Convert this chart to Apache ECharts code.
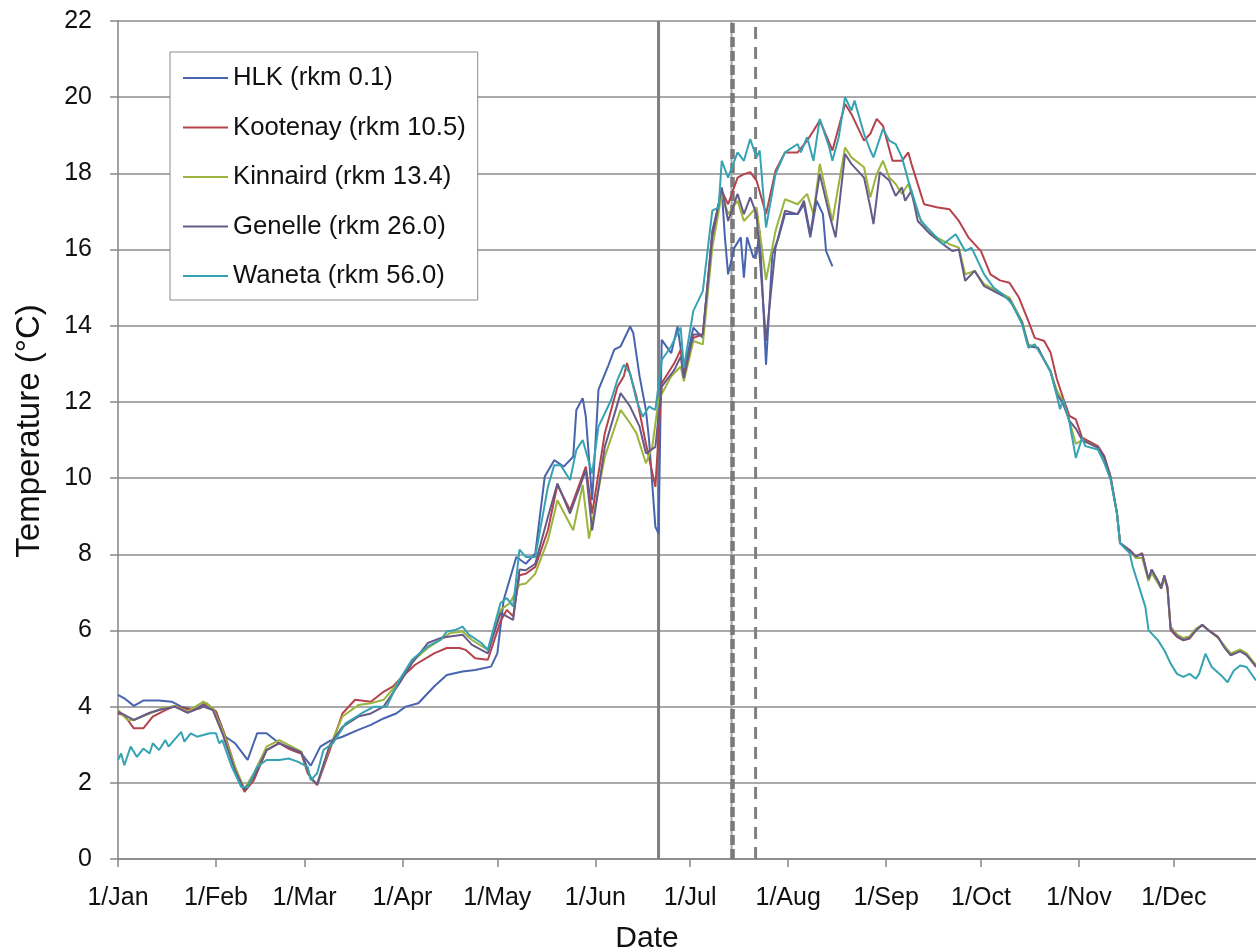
<!DOCTYPE html>
<html>
<head>
<meta charset="utf-8">
<script src="https://cdn.jsdelivr.net/npm/echarts@6/dist/echarts.min.js"></script>
<style>
  html, body { margin: 0; padding: 0; background: #ffffff; }
  #chart { width: 1256px; height: 952px; }
</style>
</head>
<body>
<div id="chart"></div>
<script>
// Day of year (0 = 1 Jan) at which each month starts, and its tick label
const monthStartDays = [0, 31, 59, 90, 120, 151, 181, 212, 243, 273, 304, 334];
const monthLabels = ['1/Jan', '1/Feb', '1/Mar', '1/Apr', '1/May', '1/Jun',
                     '1/Jul', '1/Aug', '1/Sep', '1/Oct', '1/Nov', '1/Dec'];

const seriesNames = ['HLK (rkm 0.1)', 'Kootenay (rkm 10.5)', 'Kinnaird (rkm 13.4)',
                     'Genelle (rkm 26.0)', 'Waneta (rkm 56.0)'];

// Daily water temperature (°C), [day of year, value]
const hlk = [[0,4.31],[2,4.22],[5,4.02],[8,4.16],[13,4.16],[17,4.13],[20,4.0],[24,3.91],[27,4.07],[31,3.87],
  [34,3.21],[37,3.04],[41,2.6],[44,3.3],[47,3.3],[51,3.04],[55,2.86],[58,2.77],[61,2.45],[64,2.95],[67,3.1],
  [71,3.21],[76,3.39],[80,3.52],[84,3.69],[88,3.82],[91,4.0],[95,4.09],[100,4.53],[104,4.83],[109,4.92],
  [113,4.96],[118,5.05],[120,5.4],[122,6.8],[126,7.93],[129,7.75],[132,8.02],[135,10.04],[138,10.47],
  [141,10.3],[144,10.56],[145,11.79],[147,12.1],[148,11.61],[150,9.42],[152,12.32],[155,12.93],[157,13.37],
  [159,13.46],[162,13.98],[163,13.81],[165,12.67],[167,11.79],[168,11.0],[170,8.72],[171,8.54],[172,13.63],
  [175,13.28],[177,13.98],[178,13.4],[179,12.8],[182,13.95],[185,13.68],[188,16.49],[191,17.54],[192,16.32],
  [193,15.35],[195,16.05],[197,16.32],[198,15.26],[199,16.32],[201,15.79],[202,15.88],[203,16.49],[205,12.98],
  [207,15.88],[209,16.32],[211,16.93],[215,16.93],[217,17.19],[219,16.32],[221,17.28],[223,16.93],[224,15.96],
  [226,15.56]];

const kootenay = [[0,3.82],[2,3.78],[5,3.43],[8,3.43],[11,3.74],[15,3.91],[18,4.02],[22,3.93],[26,3.96],[28,4.09],
  [31,3.87],[34,3.21],[37,2.42],[40,1.76],[43,2.07],[47,2.86],[51,3.04],[54,2.9],[58,2.77],[60,2.25],[63,1.94],
  [67,2.86],[71,3.82],[75,4.18],[80,4.13],[84,4.39],[87,4.53],[90,4.79],[94,5.1],[100,5.4],[104,5.54],[108,5.54],
  [110,5.49],[113,5.27],[117,5.23],[121,6.24],[123,6.54],[125,6.37],[127,7.45],[129,7.49],[132,7.67],[136,8.63],
  [139,9.82],[143,9.16],[148,10.3],[150,9.07],[154,11.18],[158,12.4],[160,12.67],[161,13.02],[164,12.14],
  [167,10.91],[170,9.77],[172,12.49],[176,13.02],[178,13.37],[179,12.72],[182,13.68],[185,13.77],[188,16.4],
  [191,17.54],[193,17.19],[196,17.89],[198,17.98],[200,18.03],[202,17.81],[205,16.93],[208,18.07],[211,18.55],
  [215,18.55],[218,18.86],[220,19.12],[222,19.39],[226,18.6],[230,19.82],[232,19.56],[236,18.86],[238,19.04],
  [240,19.43],[242,19.25],[245,18.33],[248,18.33],[250,18.55],[251,18.25],[255,17.19],[259,17.11],[263,17.06],
  [266,16.75],[269,16.32],[273,15.96],[276,15.35],[279,15.19],[282,15.13],[285,14.74],[288,14.12],[290,13.68],
  [293,13.6],[295,13.3],[297,12.6],[299,12.1],[301,11.63],[303,11.54],[305,11.06],[310,10.84],[312,10.58],
  [314,10.05],[316,9.08],[317,8.29],[320,8.12],[322,7.94],[324,8.03],[326,7.33],[327,7.59],[330,7.15],[331,7.41],
  [332,7.15],[333,6.01],[335,5.83],[337,5.74],[339,5.79],[341,6.01],[343,6.14],[345,6.01],[348,5.83],[350,5.57],
  [352,5.35],[355,5.48],[357,5.39],[360,5.04]];

const kinnaird = [[0,3.91],[3,3.65],[5,3.65],[10,3.82],[14,3.96],[18,4.02],[22,3.87],[27,4.13],[30,3.96],[33,3.39],
  [37,2.42],[40,1.85],[43,2.25],[47,2.95],[51,3.12],[55,2.95],[58,2.82],[61,2.1],[63,1.98],[67,2.95],[71,3.74],
  [76,4.04],[80,4.09],[84,4.18],[89,4.66],[93,5.18],[98,5.54],[102,5.75],[105,5.93],[109,5.97],[112,5.75],
  [117,5.49],[121,6.54],[124,6.72],[127,7.2],[129,7.23],[132,7.49],[136,8.37],[139,9.42],[144,8.63],[147,9.82],
  [149,8.41],[154,10.56],[159,11.79],[162,11.44],[164,11.18],[167,10.39],[169,10.82],[171,12.05],[175,12.67],
  [178,12.93],[179,12.54],[182,13.6],[185,13.51],[188,16.05],[191,17.46],[193,16.93],[196,17.28],[198,16.75],
  [200,16.93],[202,17.11],[205,15.2],[208,16.49],[211,17.32],[215,17.19],[218,17.46],[220,16.93],[222,18.25],
  [226,16.75],[230,18.68],[232,18.42],[236,18.16],[238,17.37],[240,17.98],[242,18.33],[244,17.89],[246,17.72],
  [248,17.46],[250,17.72],[253,16.93],[256,16.49],[259,16.32],[263,16.14],[266,16.05],[268,15.35],[271,15.44],
  [274,15.09],[278,14.91],[282,14.74],[286,14.12],[288,13.51],[291,13.42],[293,13.1],[295,12.8],[297,12.3],
  [299,12.0],[301,11.5],[303,10.9],[305,11.0],[310,10.8],[312,10.5],[314,10.0],[316,9.08],[317,8.29],[320,8.1],
  [322,7.9],[324,7.9],[326,7.3],[327,7.5],[330,7.1],[331,7.35],[332,7.1],[333,6.1],[335,5.9],[337,5.8],[339,5.85],
  [341,6.05],[343,6.15],[345,6.0],[348,5.8],[350,5.6],[352,5.4],[355,5.5],[357,5.4],[360,5.1]];

const genelle = [[0,3.87],[3,3.74],[5,3.65],[10,3.84],[14,3.93],[18,4.0],[22,3.84],[27,4.0],[30,3.91],[33,3.3],
  [37,2.33],[40,1.81],[43,2.16],[47,2.86],[51,3.04],[55,2.9],[58,2.8],[61,2.11],[63,1.96],[67,3.0],[71,3.47],
  [76,3.74],[80,3.82],[84,4.0],[89,4.61],[93,5.14],[98,5.67],[102,5.8],[105,5.84],[109,5.89],[112,5.62],[117,5.4],
  [121,6.46],[125,6.28],[127,7.6],[129,7.58],[132,7.75],[136,8.98],[139,9.86],[143,9.07],[148,10.21],[150,8.63],
  [154,10.82],[159,12.23],[162,11.88],[165,11.35],[167,10.65],[170,10.82],[172,12.4],[176,12.84],[178,13.19],
  [179,12.63],[182,13.77],[185,13.77],[188,16.32],[191,17.63],[193,16.75],[196,17.46],[198,16.93],[200,17.37],
  [202,16.93],[205,13.6],[208,16.05],[211,17.02],[215,16.93],[217,17.28],[219,16.4],[222,17.98],[225,16.93],
  [227,16.32],[230,18.51],[232,18.25],[236,17.89],[238,17.11],[239,16.67],[241,18.03],[244,17.81],[246,17.41],
  [248,17.63],[249,17.28],[251,17.54],[253,16.75],[257,16.4],[261,16.14],[264,15.96],[266,16.0],[268,15.18],
  [271,15.44],[274,15.04],[278,14.87],[282,14.69],[286,14.08],[288,13.46],[291,13.42],[293,13.1],[295,12.8],
  [297,12.2],[299,11.95],[301,11.5],[303,11.3],[305,11.0],[310,10.8],[312,10.55],[314,10.0],[316,9.1],[317,8.3],
  [320,8.1],[322,7.95],[324,8.0],[326,7.35],[327,7.6],[329,7.3],[330,7.1],[331,7.45],[332,7.1],[333,6.05],
  [335,5.85],[337,5.75],[339,5.8],[341,6.0],[343,6.15],[345,6.0],[348,5.82],[350,5.55],[352,5.35],[355,5.45],
  [357,5.35],[360,5.05]];

const waneta = [[0,2.6],[1,2.77],[2,2.46],[4,2.95],[6,2.68],[8,2.9],[10,2.77],[11,3.04],[13,2.86],[15,3.12],
  [16,2.95],[20,3.34],[21,3.08],[23,3.3],[25,3.21],[29,3.3],[31,3.3],[32,3.04],[33,3.12],[36,2.42],[39,1.89],
  [41,1.89],[44,2.42],[47,2.6],[51,2.6],[54,2.64],[57,2.55],[60,2.42],[61,2.07],[63,2.25],[65,2.86],[68,3.04],
  [72,3.56],[77,3.82],[81,4.0],[85,4.0],[89,4.7],[93,5.23],[98,5.58],[102,5.75],[104,5.97],[107,6.02],[109,6.1],
  [111,5.89],[115,5.67],[117,5.49],[121,6.72],[123,6.85],[125,6.63],[127,8.12],[129,7.93],[132,7.93],[136,9.77],
  [138,10.34],[140,10.34],[143,9.95],[145,10.74],[147,11.0],[150,10.12],[152,11.35],[156,12.05],[158,12.58],
  [160,12.97],[162,12.75],[164,12.05],[166,11.61],[168,11.88],[169,11.83],[170,11.79],[172,13.1],[175,13.46],
  [177,13.81],[178,13.95],[179,12.89],[182,14.39],[185,14.91],[188,17.02],[190,17.11],[191,18.33],[193,17.89],
  [196,18.55],[198,18.33],[200,18.9],[202,18.42],[203,18.6],[205,16.58],[208,17.98],[211,18.55],[215,18.77],
  [216,18.55],[218,18.95],[220,18.33],[222,19.43],[225,18.68],[226,18.33],[228,18.95],[230,20.0],[232,19.65],
  [233,19.91],[236,19.04],[238,18.6],[239,18.42],[242,19.17],[244,18.86],[246,18.77],[248,18.42],[250,17.81],
  [254,16.75],[257,16.49],[261,16.14],[265,16.4],[268,15.96],[270,16.05],[274,15.35],[277,15.0],[280,14.82],
  [283,14.56],[286,14.04],[288,13.42],[290,13.51],[293,13.1],[295,12.8],[297,12.16],[298,11.81],[299,12.07],
  [301,11.46],[303,10.53],[305,11.06],[306,10.84],[310,10.75],[312,10.4],[314,9.96],[316,9.08],[317,8.29],
  [320,8.03],[321,7.68],[323,7.15],[325,6.62],[326,6.01],[329,5.74],[331,5.48],[333,5.13],[335,4.86],[337,4.78],
  [339,4.86],[341,4.73],[342,4.86],[344,5.39],[346,5.04],[349,4.82],[351,4.64],[353,4.95],[355,5.08],[357,5.04],
  [360,4.69]];

// Event dates drawn as vertical reference lines (day of year)
const solidMarkerDays = [171];
const heavyDashMarkerDays = [194.4];
const dashMarkerDays = [201.7];

const seriesData = [hlk, kootenay, kinnaird, genelle, waneta];
const seriesColors = ['#4864ae', '#b5434b', '#9ab43c', '#675a88', '#36a3b3'];

const FONT = "'Liberation Sans', Arial, sans-serif";
const AXIS_GREY = '#868686';

function verticalLine(day, style) {
  return {
    type: 'line', silent: true, symbol: 'none', z: 1,
    data: [[day, 0], [day, 22]],
    lineStyle: style
  };
}

const lineSeries = seriesNames.map((name, i) => ({
  name: name,
  type: 'line',
  data: seriesData[i],
  symbol: 'none',
  z: 3,
  color: seriesColors[i],
  lineStyle: { width: 2, color: seriesColors[i] }
}));

const markerSeries = [
  ...solidMarkerDays.map(d => verticalLine(d, { color: '#7f7f7f', width: 3 })),
  ...heavyDashMarkerDays.map(d => verticalLine(d - 0.3, { color: '#a6a6a6', width: 2 })),
  ...heavyDashMarkerDays.map(d => verticalLine(d, { color: '#7a7a7a', width: 4.5, type: [10, 4] })),
  ...dashMarkerDays.map(d => verticalLine(d, { color: '#7f7f7f', width: 3, type: [12, 8] }))
];

const chart = echarts.init(document.getElementById('chart'), null, { renderer: 'canvas' });
chart.setOption({
  animation: false,
  backgroundColor: '#ffffff',
  textStyle: { fontFamily: FONT },
  grid: { left: 118, right: 0, top: 21, bottom: 93, containLabel: false, outerBoundsMode: 'none' },
  legend: {
    orient: 'vertical',
    left: 170, top: 52,
    data: seriesNames,
    icon: 'path://M0,0H45V2H0Z',
    backgroundColor: '#ffffff',
    borderColor: '#8a8a8a', borderWidth: 1,
    padding: [13, 12, 11, 13],
    itemWidth: 45, itemHeight: 2, itemGap: 23.5,
    textStyle: { fontFamily: FONT, fontSize: 25.7, color: '#111111', lineHeight: 25, padding: [0, 0, 0, 0] }
  },
  xAxis: {
    type: 'value', min: 0, max: 360,
    name: 'Date', nameLocation: 'middle', nameGap: 65,
    nameTextStyle: { fontFamily: FONT, fontSize: 30, color: '#111111', padding: [0, 80, 0, 0] },
    axisLine: { show: true, lineStyle: { color: AXIS_GREY, width: 1.5 } },
    axisTick: { show: true, customValues: monthStartDays, length: 8, lineStyle: { color: AXIS_GREY, width: 1.5 } },
    axisLabel: {
      customValues: monthStartDays,
      formatter: v => monthLabels[monthStartDays.indexOf(v)] || '',
      fontFamily: FONT, fontSize: 25, color: '#111111', margin: 27
    },
    splitLine: { show: false }
  },
  yAxis: {
    type: 'value', min: 0, max: 22, interval: 2,
    name: 'Temperature (\u00B0C)', nameLocation: 'middle', nameGap: 72,
    nameTextStyle: { fontFamily: FONT, fontSize: 33, color: '#111111', padding: [0, 0, 0, 18] },
    axisLine: { show: true, lineStyle: { color: AXIS_GREY, width: 1.5 } },
    axisTick: { show: true, length: 8, lineStyle: { color: AXIS_GREY, width: 1.5 } },
    axisLabel: { fontFamily: FONT, fontSize: 25, color: '#111111', margin: 26 },
    splitLine: { show: true, lineStyle: { color: '#8c8c8c', width: 1.5 } }
  },
  series: [...markerSeries, ...lineSeries]
});
</script>
</body>
</html>
